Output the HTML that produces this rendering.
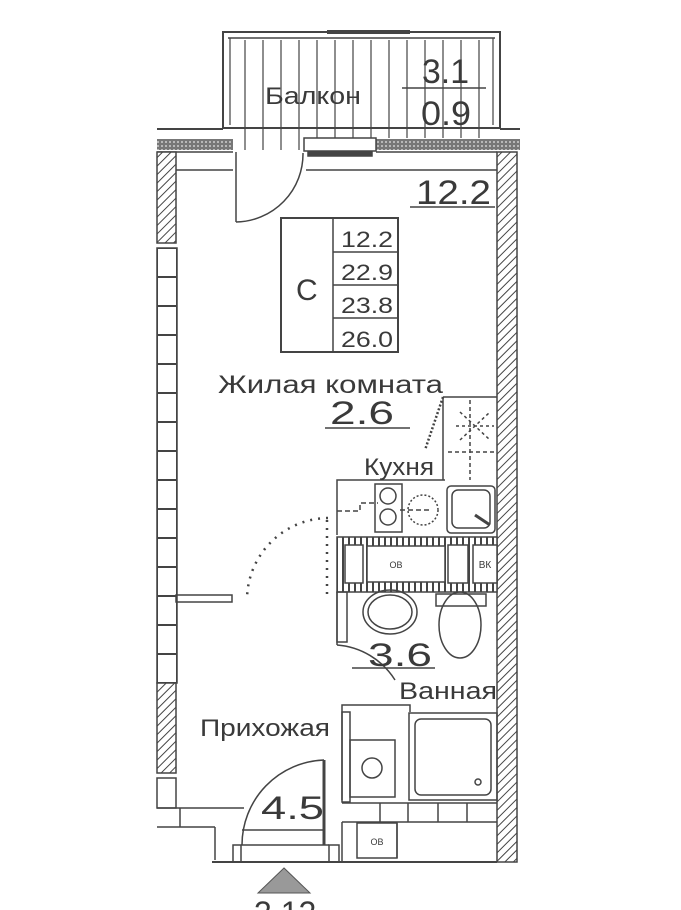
<!DOCTYPE html>
<html><head><meta charset="utf-8"><style>
html,body{margin:0;padding:0;background:#fff;}
svg{display:block;}
text{font-family:"Liberation Sans","DejaVu Sans",sans-serif;fill:#3a3a3a;}
</style></head><body>
<svg width="681" height="910" viewBox="0 0 681 910" xmlns="http://www.w3.org/2000/svg">
<defs>
<pattern id="h" width="6" height="6" patternUnits="userSpaceOnUse" patternTransform="rotate(45)">
<rect width="6" height="6" fill="#fff"/><line x1="0" y1="0" x2="0" y2="6" stroke="#444" stroke-width="2"/></pattern>
<pattern id="d" width="4" height="4" patternUnits="userSpaceOnUse"><rect width="4" height="4" fill="#777"/><circle cx="2" cy="2" r="1" fill="#ccc"/></pattern>
<pattern id="br" width="20" height="29" patternUnits="userSpaceOnUse" x="157" y="248"><rect width="20" height="29" fill="#fff" stroke="#444" stroke-width="2"/></pattern>
<pattern id="vb" width="6" height="10" patternUnits="userSpaceOnUse"><rect width="6" height="10" fill="#fff"/><rect x="0" y="0" width="2" height="10" fill="#444"/></pattern>
</defs>
<g stroke="#444" fill="none" stroke-width="1.5">
<rect x="223" y="32" width="277" height="96" stroke-width="2"/>
<line x1="228" y1="38" x2="495" y2="38"/>
<line x1="327" y1="32" x2="410" y2="32" stroke-width="4"/>
<g stroke-width="1.2">
<line x1="230" y1="38" x2="230" y2="125"/><line x1="493" y1="38" x2="493" y2="125"/>
<line x1="245" y1="40" x2="245" y2="150"/><line x1="263" y1="40" x2="263" y2="150"/><line x1="281" y1="40" x2="281" y2="150"/><line x1="299" y1="40" x2="299" y2="150"/><line x1="317" y1="40" x2="317" y2="138"/><line x1="335" y1="40" x2="335" y2="138"/><line x1="353" y1="40" x2="353" y2="138"/><line x1="371" y1="40" x2="371" y2="138"/><line x1="389" y1="40" x2="389" y2="138"/><line x1="407" y1="40" x2="407" y2="138"/><line x1="425" y1="40" x2="425" y2="138"/><line x1="443" y1="40" x2="443" y2="138"/><line x1="461" y1="40" x2="461" y2="138"/><line x1="479" y1="40" x2="479" y2="138"/>
</g>
<line x1="157" y1="129" x2="223" y2="129" stroke-width="2"/>
<line x1="500" y1="129" x2="520" y2="129" stroke-width="2"/>
<rect x="157" y="139" width="76" height="11" fill="url(#d)" stroke="none"/>
<rect x="376" y="139" width="144" height="11" fill="url(#d)" stroke="none"/>
<rect x="304" y="138" width="72" height="13"/>
<rect x="308" y="152" width="64" height="4" fill="#444"/>
<line x1="176" y1="170" x2="233" y2="170"/><line x1="306" y1="170" x2="497" y2="170"/>
<line x1="157" y1="152" x2="233" y2="152"/><line x1="376" y1="152" x2="497" y2="152"/>
<rect x="157" y="152" width="19" height="91" fill="url(#h)"/>
<rect x="157" y="248" width="20" height="435" fill="url(#br)"/>
<rect x="157" y="683" width="19" height="90" fill="url(#h)"/>
<rect x="157" y="778" width="19" height="30"/>
<line x1="157" y1="808" x2="244" y2="808"/><line x1="157" y1="827" x2="215" y2="827"/><line x1="215" y1="827" x2="215" y2="860"/><line x1="180" y1="808" x2="180" y2="827"/>
<rect x="497" y="152" width="20" height="710" fill="url(#h)"/>
<line x1="212" y1="862" x2="497" y2="862" stroke-width="2"/>
<rect x="233" y="845" width="8" height="17"/><rect x="329" y="845" width="10" height="17"/>
<line x1="241" y1="845" x2="329" y2="845"/>
<line x1="236" y1="152" x2="236" y2="222"/>
<path d="M236 222 A68 68 0 0 0 303 153"/>
<rect x="176" y="595" width="56" height="7"/>
<path d="M328 518 A82 82 0 0 0 247 600" stroke-dasharray="2 6" stroke-width="2.5"/>
<line x1="327" y1="520" x2="327" y2="600" stroke-dasharray="2 6" stroke-width="2.5"/>
<rect x="281" y="218" width="117" height="134" stroke-width="2"/>
<line x1="333" y1="218" x2="333" y2="352"/><line x1="333" y1="252" x2="398" y2="252"/><line x1="333" y1="285" x2="398" y2="285"/><line x1="333" y1="318" x2="398" y2="318"/>
<line x1="410" y1="207" x2="495" y2="207"/><line x1="325" y1="428" x2="410" y2="428"/><line x1="352" y1="668" x2="435" y2="668"/><line x1="402" y1="88" x2="486" y2="88"/>
<line x1="443" y1="397" x2="497" y2="397"/><line x1="443" y1="397" x2="443" y2="480"/>
<line x1="470" y1="400" x2="470" y2="480" stroke-dasharray="4 3"/>
<line x1="448" y1="452" x2="497" y2="452" stroke-dasharray="4 3"/>
<path d="M460 412 L490 440 M460 440 L490 412 M456 426 L494 426" stroke-dasharray="3 3"/>
<line x1="443" y1="397" x2="425" y2="450" stroke-dasharray="2 2" stroke-width="2.5"/>
<path d="M337 535 V480 H445"/>
<rect x="375" y="484" width="27" height="48"/>
<circle cx="388" cy="496" r="8"/><circle cx="388" cy="517" r="8"/>
<circle cx="423" cy="510" r="15" stroke-dasharray="2 2"/>
<path d="M337 511 H360 V503 H378 M400 510 H430" stroke-dasharray="5 3"/>
<rect x="447" y="486" width="48" height="47" rx="4"/>
<rect x="452" y="490" width="38" height="38" rx="6"/>
<line x1="475" y1="515" x2="490" y2="525" stroke-width="3"/>
<rect x="337" y="537" width="160" height="55" fill="url(#vb)"/>
<rect x="367" y="546" width="78" height="36" fill="#fff"/>
<rect x="473" y="545" width="24" height="38" fill="#fff"/>
<rect x="345" y="545" width="18" height="38" fill="#fff"/><rect x="448" y="545" width="20" height="38" fill="#fff"/>
<line x1="337" y1="592" x2="337" y2="645"/>
<rect x="337" y="592" width="10" height="50"/>
<ellipse cx="390" cy="612" rx="27" ry="22"/><ellipse cx="390" cy="612" rx="22" ry="17"/>
<rect x="436" y="594" width="50" height="12"/><ellipse cx="460" cy="625" rx="21" ry="33"/>
<path d="M337 645 A75 75 0 0 1 395 680"/>
<path d="M342 800 V705 H410 V712"/>
<rect x="342" y="712" width="8" height="90"/>
<rect x="350" y="740" width="45" height="57"/><circle cx="372" cy="768" r="10"/>
<rect x="409" y="713" width="88" height="87"/><rect x="415" y="719" width="76" height="76" rx="6"/><circle cx="478" cy="782" r="3"/>
<line x1="342" y1="803" x2="497" y2="803"/><line x1="342" y1="822" x2="497" y2="822"/>
<line x1="380" y1="803" x2="380" y2="822"/><line x1="408" y1="803" x2="408" y2="822"/><line x1="438" y1="803" x2="438" y2="822"/><line x1="467" y1="803" x2="467" y2="822"/>
<rect x="357" y="823" width="40" height="35"/><line x1="397" y1="823" x2="397" y2="858"/>
<line x1="342" y1="822" x2="342" y2="862"/>
<line x1="324" y1="760" x2="324" y2="845" stroke-width="3"/>
<path d="M324 760 A85 85 0 0 0 242 845"/>
<line x1="242" y1="830" x2="325" y2="830"/>
</g>
<polygon points="284,868 258,893 310,893" fill="#999" stroke="#555"/>
<g>
<text x="265" y="104" font-size="24" textLength="96" lengthAdjust="spacingAndGlyphs">Балкон</text>
<text x="422" y="83" font-size="34" textLength="47" lengthAdjust="spacingAndGlyphs">3.1</text>
<text x="421" y="125" font-size="34" textLength="50" lengthAdjust="spacingAndGlyphs">0.9</text>
<text x="416" y="204" font-size="34" textLength="75" lengthAdjust="spacingAndGlyphs">12.2</text>
<text x="296" y="300" font-size="30">C</text>
<text x="341" y="247" font-size="22" textLength="52" lengthAdjust="spacingAndGlyphs">12.2</text>
<text x="341" y="280" font-size="22" textLength="52" lengthAdjust="spacingAndGlyphs">22.9</text>
<text x="341" y="313" font-size="22" textLength="52" lengthAdjust="spacingAndGlyphs">23.8</text>
<text x="341" y="347" font-size="22" textLength="52" lengthAdjust="spacingAndGlyphs">26.0</text>
<text x="218" y="393" font-size="25" textLength="225" lengthAdjust="spacingAndGlyphs">Жилая  комната</text>
<text x="330" y="424" font-size="32" textLength="64" lengthAdjust="spacingAndGlyphs">2.6</text>
<text x="364" y="475" font-size="24" textLength="70" lengthAdjust="spacingAndGlyphs">Кухня</text>
<text x="368" y="666" font-size="32" textLength="64" lengthAdjust="spacingAndGlyphs">3.6</text>
<text x="399" y="699" font-size="24" textLength="98" lengthAdjust="spacingAndGlyphs">Ванная</text>
<text x="200" y="736" font-size="24" textLength="130" lengthAdjust="spacingAndGlyphs">Прихожая</text>
<text x="261" y="819" font-size="32" textLength="63" lengthAdjust="spacingAndGlyphs">4.5</text>
<text x="396" y="568" font-size="9" text-anchor="middle">ОВ</text>
<text x="485" y="568" font-size="10" text-anchor="middle">ВК</text>
<text x="377" y="845" font-size="9" text-anchor="middle">ОВ</text>
<text x="254" y="924" font-size="32">3.12</text>
</g>
</svg>
</body></html>
